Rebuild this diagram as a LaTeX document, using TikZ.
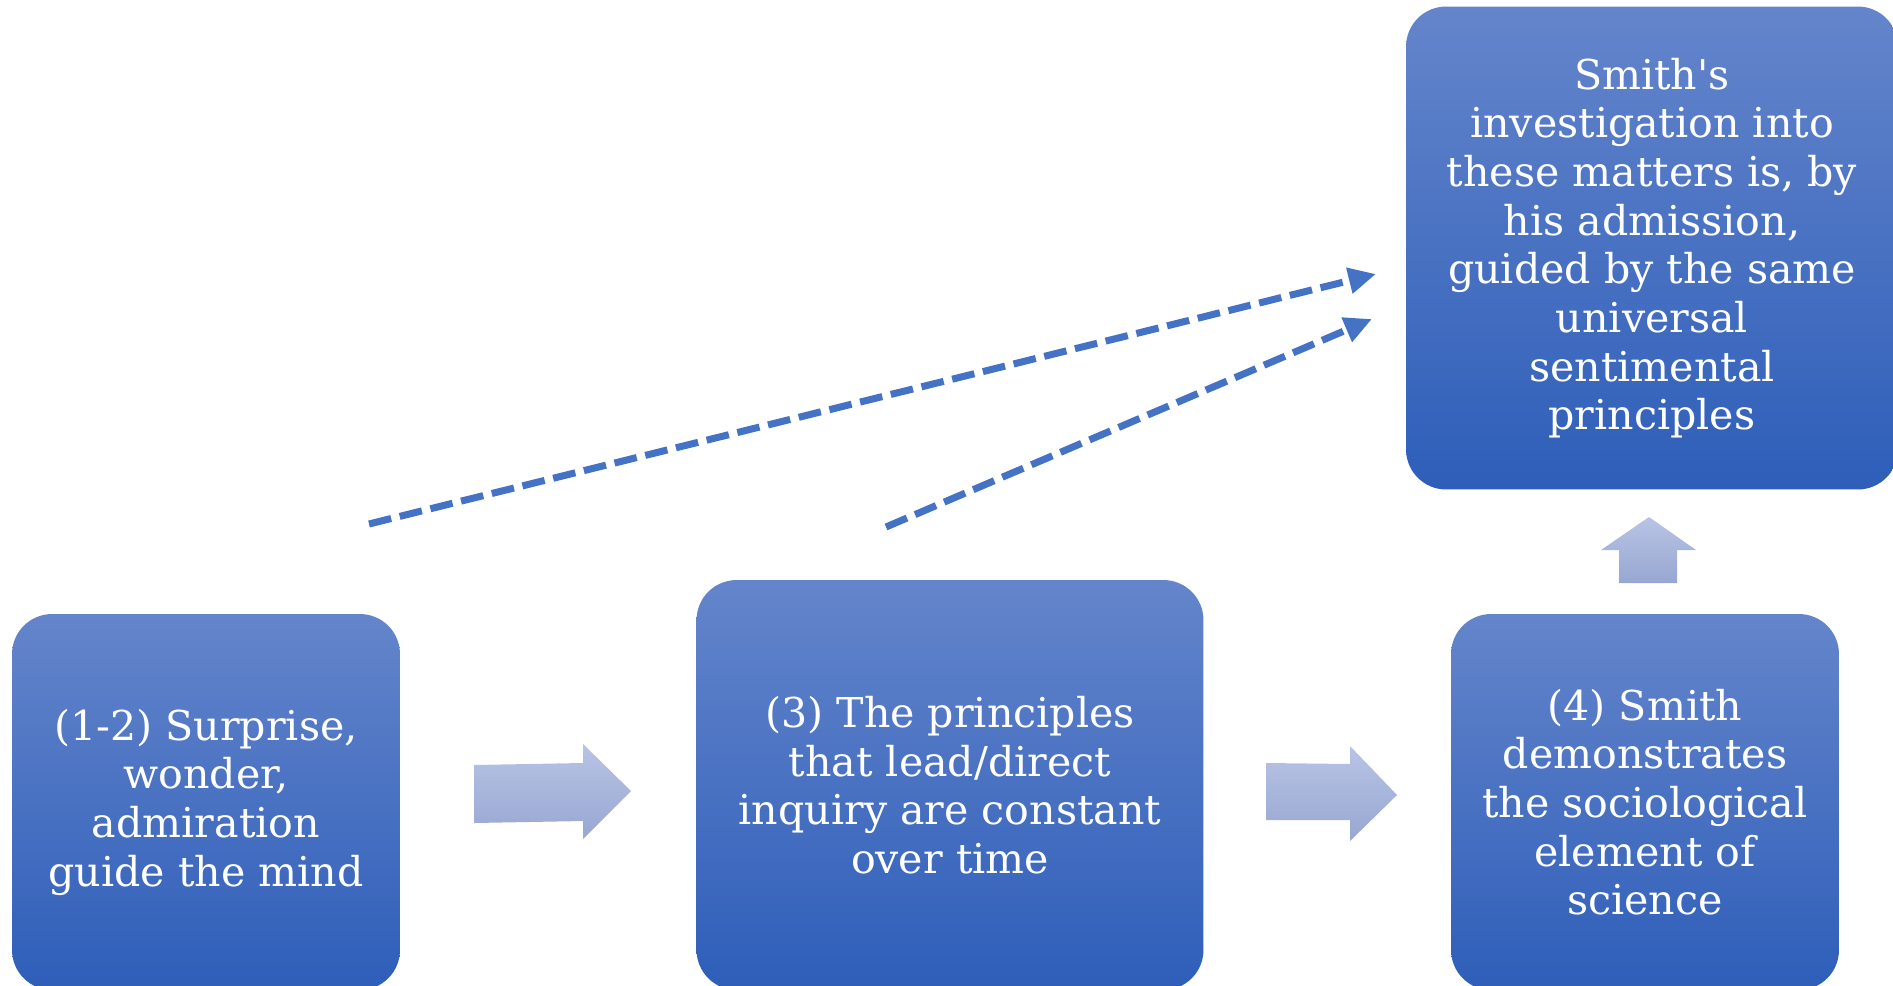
\documentclass[tikz,border=0pt]{standalone}
\usepackage{fontspec}
\newfontfamily\boxfont{DejaVu Serif}
\usepackage{tikz}
\usetikzlibrary{arrows.meta}
\usetikzlibrary{positioning}
\definecolor{boxtop}{RGB}{100,133,203}
\definecolor{boxbottom}{RGB}{46,94,185}
\definecolor{arrowtop}{RGB}{184,196,230}
\definecolor{arrowbottom}{RGB}{152,167,209}
\definecolor{dashblue}{RGB}{68,114,196}
\tikzstyle{step_box} = [
    rectangle, 
    rounded corners=0.8cm, 
    white, 
    top color=boxtop, 
    bottom color=boxbottom, 
    draw=none, 
    align=center, 
    inner sep=0pt, 
    font=\boxfont\fontsize{23.4}{27.7}\selectfont
]
\tikzstyle{block_arrow} = [
    top color=arrowtop, 
    bottom color=arrowbottom, 
    draw=none
]
\tikzstyle{link} = [
    dashblue, 
    line width=4pt, 
    dash pattern=on 13pt off 5pt, 
    -{Triangle[length=0.55cm, width=0.5cm]}
]

\begin{document}
\begin{tikzpicture}[x=0.02cm, y=-0.02cm]
\clip (0,0) rectangle (1893,985);
\useasboundingbox (0,0) rectangle (1893,985);

% the four steps
\node [step_box, minimum width=7.76cm, minimum height=7.52cm] (wonder) at (206,802)
    {(1-2) Surprise,\\ wonder,\\ admiration\\ guide the mind};
\node [step_box, minimum width=10.14cm, minimum height=8.2cm] (constant) at (950,785)
    {(3) The principles\\ that lead/direct\\ inquiry are constant\\ over time};
\node [step_box, minimum width=7.76cm, minimum height=7.52cm] (sociology) at (1645,802)
    {(4) Smith\\ demonstrates\\ the sociological\\ element of\\ science};
\node [step_box, minimum width=9.84cm, minimum height=9.66cm] (smith) at (1652,248)
    {Smith's\\ investigation into\\ these matters is, by\\ his admission,\\ guided by the same\\ universal\\ sentimental\\ principles};

% block arrows
\shade [block_arrow] (474,765) -- (583,763) -- (583,744) -- (631,791)
    -- (583,839) -- (583,821) -- (474,823) -- cycle;
\shade [block_arrow] (1266,763) -- (1350,764) -- (1350,746) -- (1397,795)
    -- (1350,841) -- (1350,820) -- (1266,820) -- cycle;
\shade [block_arrow] (1619,583) -- (1619,550) -- (1601,550) -- (1649,517)
    -- (1696,550) -- (1677,550) -- (1677,583) -- cycle;

% dashed links
\coordinate (from_wonder) at (369,524);
\coordinate (from_constant) at (886,527);
\coordinate (to_smith_a) at (1376,274);
\coordinate (to_smith_b) at (1372,319);
\draw [link] (from_wonder) -- (to_smith_a);
\draw [link] (from_constant) -- (to_smith_b);
\end{tikzpicture}
\end{document}
